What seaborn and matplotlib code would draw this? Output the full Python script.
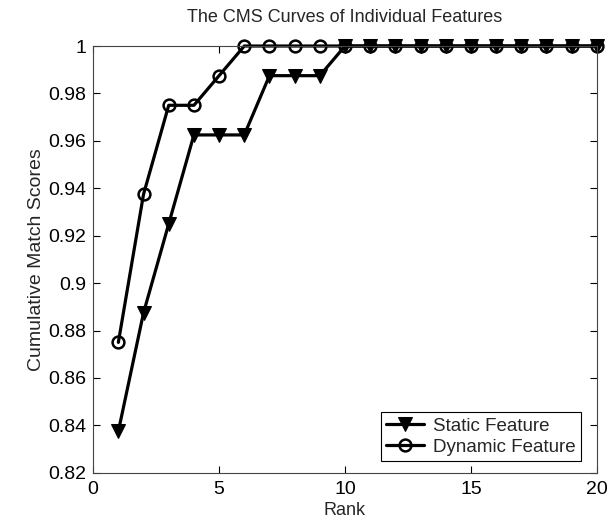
import matplotlib
matplotlib.use("Agg")
import matplotlib.pyplot as plt
import seaborn as sns
import pandas as pd

rank = list(range(1, 21))
static_scores = [0.8375, 0.8875, 0.925, 0.9625, 0.9625, 0.9625, 0.9875, 0.9875, 0.9875,
                 1, 1, 1, 1, 1, 1, 1, 1, 1, 1, 1]
dynamic_scores = [0.875, 0.9375, 0.975, 0.975, 0.9875, 1, 1, 1, 1,
                  1, 1, 1, 1, 1, 1, 1, 1, 1, 1, 1]
x_ticks = [0, 5, 10, 15, 20]
y_ticks = [0.82, 0.84, 0.86, 0.88, 0.90, 0.92, 0.94, 0.96, 0.98, 1.0]
y_tick_labels = ["0.82", "0.84", "0.86", "0.88", "0.9", "0.92", "0.94", "0.96", "0.98", "1"]

sns.set_theme(style="ticks")
plt.rcParams["font.family"] = ["Liberation Sans", "DejaVu Sans"]

df_s = pd.DataFrame({"Rank": rank, "Score": static_scores})
df_d = pd.DataFrame({"Rank": rank, "Score": dynamic_scores})

fig = plt.figure(figsize=(6.09, 5.23), dpi=100)
ax = fig.add_axes([0.153, 0.096, 0.827, 0.816])

sns.lineplot(data=df_d, x="Rank", y="Score", ax=ax, color="black", linewidth=2.3,
             marker="o", markersize=8.5, markerfacecolor="none", markeredgecolor="black",
             markeredgewidth=1.8, label="Dynamic Feature", clip_on=False)
sns.lineplot(data=df_s, x="Rank", y="Score", ax=ax, color="black", linewidth=2.3,
             marker="v", markersize=10, markerfacecolor="black", markeredgecolor="black",
             label="Static Feature", clip_on=False)

ax.set_xlim(0, 20)
ax.set_ylim(0.82, 1.0)
ax.set_xticks(x_ticks)
ax.set_xticklabels([str(t) for t in x_ticks])
ax.set_yticks(y_ticks)
ax.set_yticklabels(y_tick_labels)
ax.tick_params(direction="in", length=5, width=0.8, top=True, right=True,
               labelsize=14, colors="black")
ax.tick_params(axis="x", pad=6)
ax.tick_params(axis="y", pad=5)
for s in ax.spines.values():
    s.set_visible(True)
    s.set_color("#444444")
    s.set_linewidth(0.8)

ax.set_xlabel("Rank", fontsize=13, labelpad=3)
ax.set_ylabel("Cumulative Match Scores", fontsize=14, labelpad=2)
ax.set_title("The CMS Curves of Individual Features", fontsize=13, pad=17)

handles, labels = ax.get_legend_handles_labels()
order = [labels.index("Static Feature"), labels.index("Dynamic Feature")]
leg = ax.legend([handles[i] for i in order], [labels[i] for i in order],
                loc="lower right", bbox_to_anchor=(0.988, 0.005), fontsize=13.5,
                frameon=True, fancybox=False, edgecolor="black", framealpha=1,
                borderpad=0.3, labelspacing=0.2, handlelength=2.0, handletextpad=0.5)
leg.get_frame().set_linewidth(0.8)

fig.savefig("out.png", dpi=100)
